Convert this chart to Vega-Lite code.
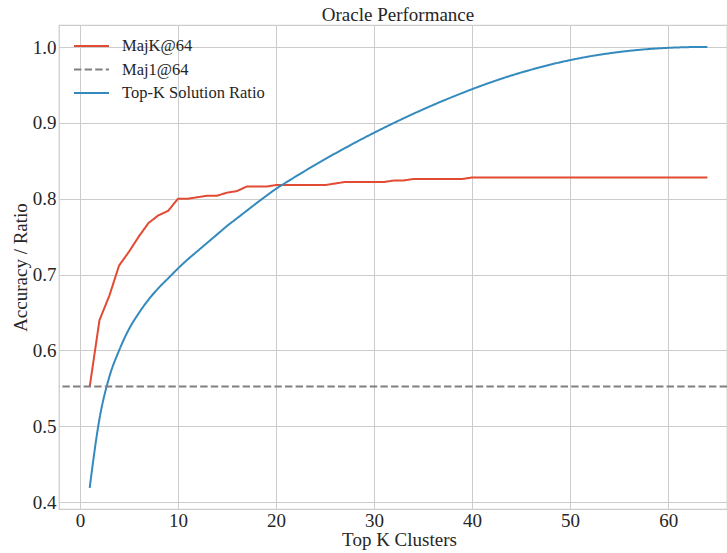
{
  "$schema": "https://vega.github.io/schema/vega-lite/v6.json",
  "width": 668,
  "height": 484,
  "autosize": {"type": "none"},
  "padding": {"left": 59, "top": 25, "right": 0, "bottom": 44},
  "background": "white",
  "config": {
    "font": "Liberation Serif",
    "view": {"stroke": "#cccccc", "strokeWidth": 1.25},
    "axis": {
      "domain": false,
      "ticks": false,
      "grid": true,
      "gridColor": "#cccccc",
      "gridWidth": 1,
      "labelFont": "Liberation Serif",
      "labelFontSize": 19,
      "labelColor": "#262626",
      "titleFont": "Liberation Serif",
      "titleFontSize": 19,
      "titleFontWeight": "normal",
      "titleColor": "#262626"
    },
    "legend": {
      "labelFont": "Liberation Serif",
      "labelFontSize": 16.5,
      "labelColor": "#262626"
    },
    "title": {"font": "Liberation Serif", "fontSize": 19, "fontWeight": "normal", "color": "#262626"}
  },
  "title": {"text": "Oracle Performance", "offset": 0, "dx": 5, "font": "Liberation Serif"},
  "datasets": {
    "curves": [
      {"k": 1, "value": 0.552, "series": "MajK@64"},
      {"k": 2, "value": 0.640, "series": "MajK@64"},
      {"k": 3, "value": 0.672, "series": "MajK@64"},
      {"k": 4, "value": 0.712, "series": "MajK@64"},
      {"k": 5, "value": 0.730, "series": "MajK@64"},
      {"k": 6, "value": 0.750, "series": "MajK@64"},
      {"k": 7, "value": 0.768, "series": "MajK@64"},
      {"k": 8, "value": 0.778, "series": "MajK@64"},
      {"k": 9, "value": 0.784, "series": "MajK@64"},
      {"k": 10, "value": 0.800, "series": "MajK@64"},
      {"k": 11, "value": 0.800, "series": "MajK@64"},
      {"k": 12, "value": 0.802, "series": "MajK@64"},
      {"k": 13, "value": 0.804, "series": "MajK@64"},
      {"k": 14, "value": 0.804, "series": "MajK@64"},
      {"k": 15, "value": 0.808, "series": "MajK@64"},
      {"k": 16, "value": 0.810, "series": "MajK@64"},
      {"k": 17, "value": 0.816, "series": "MajK@64"},
      {"k": 18, "value": 0.816, "series": "MajK@64"},
      {"k": 19, "value": 0.816, "series": "MajK@64"},
      {"k": 20, "value": 0.818, "series": "MajK@64"},
      {"k": 21, "value": 0.818, "series": "MajK@64"},
      {"k": 22, "value": 0.818, "series": "MajK@64"},
      {"k": 23, "value": 0.818, "series": "MajK@64"},
      {"k": 24, "value": 0.818, "series": "MajK@64"},
      {"k": 25, "value": 0.818, "series": "MajK@64"},
      {"k": 26, "value": 0.820, "series": "MajK@64"},
      {"k": 27, "value": 0.822, "series": "MajK@64"},
      {"k": 28, "value": 0.822, "series": "MajK@64"},
      {"k": 29, "value": 0.822, "series": "MajK@64"},
      {"k": 30, "value": 0.822, "series": "MajK@64"},
      {"k": 31, "value": 0.822, "series": "MajK@64"},
      {"k": 32, "value": 0.824, "series": "MajK@64"},
      {"k": 33, "value": 0.824, "series": "MajK@64"},
      {"k": 34, "value": 0.826, "series": "MajK@64"},
      {"k": 35, "value": 0.826, "series": "MajK@64"},
      {"k": 36, "value": 0.826, "series": "MajK@64"},
      {"k": 37, "value": 0.826, "series": "MajK@64"},
      {"k": 38, "value": 0.826, "series": "MajK@64"},
      {"k": 39, "value": 0.826, "series": "MajK@64"},
      {"k": 40, "value": 0.828, "series": "MajK@64"},
      {"k": 41, "value": 0.828, "series": "MajK@64"},
      {"k": 42, "value": 0.828, "series": "MajK@64"},
      {"k": 43, "value": 0.828, "series": "MajK@64"},
      {"k": 44, "value": 0.828, "series": "MajK@64"},
      {"k": 45, "value": 0.828, "series": "MajK@64"},
      {"k": 46, "value": 0.828, "series": "MajK@64"},
      {"k": 47, "value": 0.828, "series": "MajK@64"},
      {"k": 48, "value": 0.828, "series": "MajK@64"},
      {"k": 49, "value": 0.828, "series": "MajK@64"},
      {"k": 50, "value": 0.828, "series": "MajK@64"},
      {"k": 51, "value": 0.828, "series": "MajK@64"},
      {"k": 52, "value": 0.828, "series": "MajK@64"},
      {"k": 53, "value": 0.828, "series": "MajK@64"},
      {"k": 54, "value": 0.828, "series": "MajK@64"},
      {"k": 55, "value": 0.828, "series": "MajK@64"},
      {"k": 56, "value": 0.828, "series": "MajK@64"},
      {"k": 57, "value": 0.828, "series": "MajK@64"},
      {"k": 58, "value": 0.828, "series": "MajK@64"},
      {"k": 59, "value": 0.828, "series": "MajK@64"},
      {"k": 60, "value": 0.828, "series": "MajK@64"},
      {"k": 61, "value": 0.828, "series": "MajK@64"},
      {"k": 62, "value": 0.828, "series": "MajK@64"},
      {"k": 63, "value": 0.828, "series": "MajK@64"},
      {"k": 64, "value": 0.828, "series": "MajK@64"}
    ],
    "ratio": [
      {"k": 1, "value": 0.419, "series": "Top-K Solution Ratio"},
      {"k": 2, "value": 0.510, "series": "Top-K Solution Ratio"},
      {"k": 3, "value": 0.565, "series": "Top-K Solution Ratio"},
      {"k": 4, "value": 0.600, "series": "Top-K Solution Ratio"},
      {"k": 5, "value": 0.628, "series": "Top-K Solution Ratio"},
      {"k": 6, "value": 0.649, "series": "Top-K Solution Ratio"},
      {"k": 7, "value": 0.667, "series": "Top-K Solution Ratio"},
      {"k": 8, "value": 0.682, "series": "Top-K Solution Ratio"},
      {"k": 9, "value": 0.695, "series": "Top-K Solution Ratio"},
      {"k": 10, "value": 0.708, "series": "Top-K Solution Ratio"},
      {"k": 11, "value": 0.720, "series": "Top-K Solution Ratio"},
      {"k": 12, "value": 0.731, "series": "Top-K Solution Ratio"},
      {"k": 13, "value": 0.742, "series": "Top-K Solution Ratio"},
      {"k": 14, "value": 0.753, "series": "Top-K Solution Ratio"},
      {"k": 15, "value": 0.764, "series": "Top-K Solution Ratio"},
      {"k": 16, "value": 0.774, "series": "Top-K Solution Ratio"},
      {"k": 17, "value": 0.784, "series": "Top-K Solution Ratio"},
      {"k": 18, "value": 0.794, "series": "Top-K Solution Ratio"},
      {"k": 19, "value": 0.8037, "series": "Top-K Solution Ratio"},
      {"k": 20, "value": 0.8130, "series": "Top-K Solution Ratio"},
      {"k": 21, "value": 0.8212, "series": "Top-K Solution Ratio"},
      {"k": 22, "value": 0.8292, "series": "Top-K Solution Ratio"},
      {"k": 23, "value": 0.8370, "series": "Top-K Solution Ratio"},
      {"k": 24, "value": 0.8446, "series": "Top-K Solution Ratio"},
      {"k": 25, "value": 0.8521, "series": "Top-K Solution Ratio"},
      {"k": 26, "value": 0.8594, "series": "Top-K Solution Ratio"},
      {"k": 27, "value": 0.8665, "series": "Top-K Solution Ratio"},
      {"k": 28, "value": 0.8735, "series": "Top-K Solution Ratio"},
      {"k": 29, "value": 0.8803, "series": "Top-K Solution Ratio"},
      {"k": 30, "value": 0.8869, "series": "Top-K Solution Ratio"},
      {"k": 31, "value": 0.8934, "series": "Top-K Solution Ratio"},
      {"k": 32, "value": 0.8997, "series": "Top-K Solution Ratio"},
      {"k": 33, "value": 0.9059, "series": "Top-K Solution Ratio"},
      {"k": 34, "value": 0.9119, "series": "Top-K Solution Ratio"},
      {"k": 35, "value": 0.9177, "series": "Top-K Solution Ratio"},
      {"k": 36, "value": 0.9234, "series": "Top-K Solution Ratio"},
      {"k": 37, "value": 0.9289, "series": "Top-K Solution Ratio"},
      {"k": 38, "value": 0.9342, "series": "Top-K Solution Ratio"},
      {"k": 39, "value": 0.9394, "series": "Top-K Solution Ratio"},
      {"k": 40, "value": 0.9444, "series": "Top-K Solution Ratio"},
      {"k": 41, "value": 0.9492, "series": "Top-K Solution Ratio"},
      {"k": 42, "value": 0.9538, "series": "Top-K Solution Ratio"},
      {"k": 43, "value": 0.9582, "series": "Top-K Solution Ratio"},
      {"k": 44, "value": 0.9624, "series": "Top-K Solution Ratio"},
      {"k": 45, "value": 0.9663, "series": "Top-K Solution Ratio"},
      {"k": 46, "value": 0.9700, "series": "Top-K Solution Ratio"},
      {"k": 47, "value": 0.9735, "series": "Top-K Solution Ratio"},
      {"k": 48, "value": 0.9768, "series": "Top-K Solution Ratio"},
      {"k": 49, "value": 0.9799, "series": "Top-K Solution Ratio"},
      {"k": 50, "value": 0.9827, "series": "Top-K Solution Ratio"},
      {"k": 51, "value": 0.9853, "series": "Top-K Solution Ratio"},
      {"k": 52, "value": 0.9877, "series": "Top-K Solution Ratio"},
      {"k": 53, "value": 0.9898, "series": "Top-K Solution Ratio"},
      {"k": 54, "value": 0.9917, "series": "Top-K Solution Ratio"},
      {"k": 55, "value": 0.9934, "series": "Top-K Solution Ratio"},
      {"k": 56, "value": 0.9949, "series": "Top-K Solution Ratio"},
      {"k": 57, "value": 0.9962, "series": "Top-K Solution Ratio"},
      {"k": 58, "value": 0.9973, "series": "Top-K Solution Ratio"},
      {"k": 59, "value": 0.9982, "series": "Top-K Solution Ratio"},
      {"k": 60, "value": 0.9989, "series": "Top-K Solution Ratio"},
      {"k": 61, "value": 0.9994, "series": "Top-K Solution Ratio"},
      {"k": 62, "value": 0.9998, "series": "Top-K Solution Ratio"},
      {"k": 63, "value": 1.0, "series": "Top-K Solution Ratio"},
      {"k": 64, "value": 1.0, "series": "Top-K Solution Ratio"}
    ],
    "baseline": [
      {"value": 0.5525, "series": "Maj1@64"}
    ]
  },
  "encoding": {
    "x": {
      "field": "k", "type": "quantitative",
      "scale": {"domain": [-2.13, 66.0], "nice": false, "zero": false},
      "axis": {"values": [0, 10, 20, 30, 40, 50, 60], "title": "Top K Clusters", "labelPadding": 2, "titlePadding": 0, "titleX": 340, "labelFont": "Liberation Serif", "titleFont": "Liberation Serif"}
    },
    "y": {
      "field": "value", "type": "quantitative",
      "scale": {"domain": [0.391, 1.029], "nice": false, "zero": false},
      "axis": {"values": [0.4, 0.5, 0.6, 0.7, 0.8, 0.9, 1.0], "format": ".1f", "title": "Accuracy / Ratio", "labelPadding": 3, "titlePadding": 2, "labelFont": "Liberation Serif", "titleFont": "Liberation Serif"}
    },
    "color": {
      "field": "series", "type": "nominal",
      "scale": {"domain": ["MajK@64", "Maj1@64", "Top-K Solution Ratio"], "range": ["#E24A33", "#808080", "#348ABD"]},
      "legend": {
        "title": null, "orient": "none", "legendX": 14, "legendY": 12,
        "symbolType": "stroke", "symbolSize": 1225, "symbolStrokeWidth": 2,
        "labelOffset": 12, "rowPadding": 5.5, "clipHeight": 18,
        "labelFont": "Liberation Serif", "labelFontSize": 16.5, "labelColor": "#262626"
      }
    },
    "strokeDash": {
      "field": "series", "type": "nominal",
      "scale": {"domain": ["MajK@64", "Maj1@64", "Top-K Solution Ratio"], "range": [[1, 0], [7.4, 3.2], [1, 0]]},
      "legend": {
        "title": null, "orient": "none", "legendX": 14, "legendY": 12,
        "symbolType": "stroke", "symbolSize": 1225, "symbolStrokeWidth": 2,
        "labelOffset": 12, "rowPadding": 5.5, "clipHeight": 18,
        "labelFont": "Liberation Serif", "labelFontSize": 16.5, "labelColor": "#262626"
      }
    }
  },
  "layer": [
    {
      "data": {"name": "curves"},
      "mark": {"type": "line", "strokeWidth": 2, "clip": true}
    },
    {
      "data": {"name": "ratio"},
      "mark": {"type": "line", "strokeWidth": 2, "clip": true, "interpolate": "monotone"}
    },
    {
      "data": {"name": "baseline"},
      "mark": {"type": "rule", "strokeWidth": 2},
      "encoding": {
        "x": null
      }
    }
  ]
}
